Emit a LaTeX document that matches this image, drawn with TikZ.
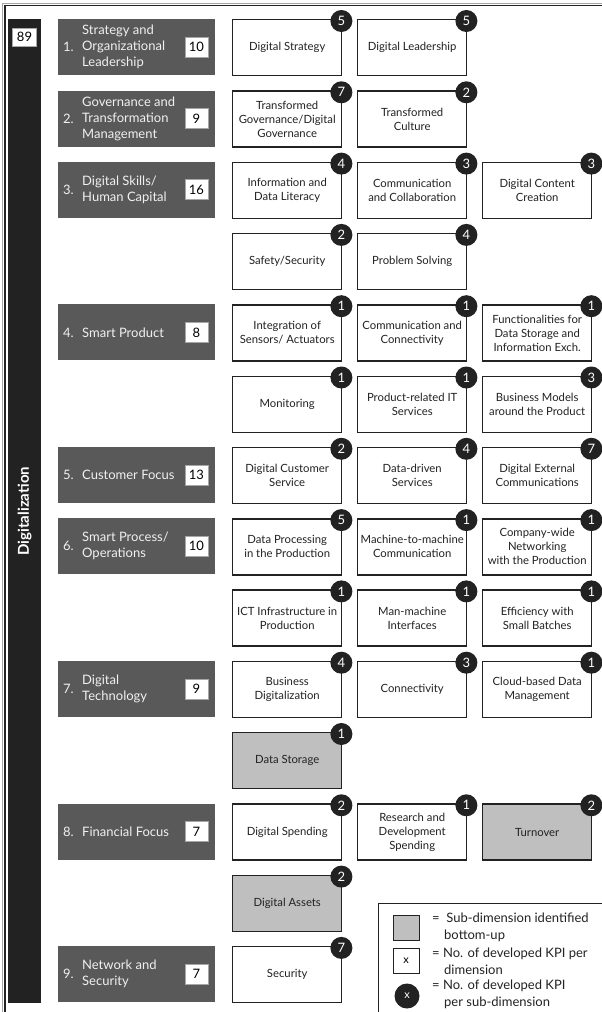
\documentclass[tikz,border=0pt]{standalone}
\usepackage{fontspec}
\setmainfont{Lato}
\usetikzlibrary{calc}
\definecolor{dimgray}{RGB}{89,89,89}
\definecolor{dimtxt}{RGB}{240,240,240}
\definecolor{darkk}{RGB}{34,34,34}
\definecolor{bupgray}{RGB}{191,191,191}
\tikzset{
  subbox/.style={draw=darkk, line width=1.4pt, minimum width=109pt, minimum height=56pt,
    align=center, font=\fontsize{11.3}{14}\selectfont, text=darkk, inner sep=1pt, anchor=north west},
  badge/.style={circle, fill=darkk, minimum size=22pt, inner sep=0pt, text=white,
    font=\fontsize{13}{13}\selectfont},
  dimbox/.style={fill=dimgray, minimum width=157pt, minimum height=56pt, inner sep=0pt, anchor=north west},
  dimnum/.style={anchor=west, text=dimtxt, inner sep=0pt, font=\fontsize{13}{16}\selectfont},
  dimtext/.style={anchor=west, text=dimtxt, inner sep=0pt, align=left, font=\fontsize{13}{16}\selectfont},
  cntbox/.style={fill=white, draw=black!35, line width=0.8pt, minimum width=23pt, minimum height=20pt,
    inner sep=0pt, text=black, font=\fontsize{13}{13}\selectfont},
  legtext/.style={anchor=west, align=left, inner sep=0pt, text=darkk, font=\fontsize{13}{17}\selectfont}
}
\newcommand{\sbx}[5][white]{%
  \pgfmathsetmacro\sx{232+125*(#2-1)}%
  \pgfmathsetmacro\sy{19+71.3*#3}%
  \node[subbox, fill=#1] (s#2r#3) at (\sx,\sy) {#4};
  \node[badge] (b#2r#3) at ($(s#2r#3.north east)+(-1,2)$) {#5};}
\newcommand{\dbx}[4]{%
  \pgfmathsetmacro\dy{19+71.3*#1}%
  \node[dimbox] (d#2) at (58,\dy) {};
  \node[dimnum] (dn#2) at ($(d#2.west)+(5,0)$) {#2.};
  \node[dimtext] (dt#2) at ($(d#2.west)+(24,0)$) {#3};
  \node[cntbox] (c#2) at ($(d#2.east)+(-19,0)$) {#4};}
\begin{document}
\begin{tikzpicture}[x=1pt,y=-1pt]
\useasboundingbox (0,0) rectangle (602,1012);
% frame
\draw[black!35, line width=0.8pt] (2.2,1012) -- (2.2,3.5) -- (602,3.5);
\draw[darkk, line width=1.2pt] (5,1012) -- (5,5.5) -- (602,5.5);
% bar
\node[fill=darkk, minimum width=33pt, minimum height=984pt, inner sep=0pt, anchor=north west] (bar) at (8,19) {};
\node[fill=white, draw=black!35, line width=0.8pt, minimum width=24pt, minimum height=18pt, inner sep=0pt,
  font=\fontsize{13}{13}\selectfont] (total) at (24.5,37) {89};
\node[rotate=90, text=white, font=\bfseries\fontsize{15}{15}\selectfont] (digi) at (bar.center) {Digitalization};
% dimensions
\dbx{0}{1}{Strategy and\\Organizational\\Leadership}{10}
\dbx{1}{2}{Governance and\\Transformation\\Management}{9}
\dbx{2}{3}{Digital Skills/\\Human Capital}{16}
\dbx{4}{4}{Smart Product}{8}
\dbx{6}{5}{Customer Focus}{13}
\dbx{7}{6}{Smart Process/\\Operations}{10}
\dbx{9}{7}{Digital\\Technology}{9}
\dbx{11}{8}{Financial Focus}{7}
\dbx{13}{9}{Network and\\Security}{7}
% sub-dimensions
\sbx{1}{0}{Digital Strategy}{5}
\sbx{2}{0}{Digital Leadership}{5}
\sbx{1}{1}{Transformed\\Governance/Digital\\Governance}{7}
\sbx{2}{1}{Transformed\\Culture}{2}
\sbx{1}{2}{Information and\\Data Literacy}{4}
\sbx{2}{2}{Communication\\and Collaboration}{3}
\sbx{3}{2}{Digital Content\\Creation}{3}
\sbx{1}{3}{Safety/Security}{2}
\sbx{2}{3}{Problem Solving}{4}
\sbx{1}{4}{Integration of\\Sensors/ Actuators}{1}
\sbx{2}{4}{Communication and\\Connectivity}{1}
\sbx{3}{4}{Functionalities for\\Data Storage and\\Information Exch.}{1}
\sbx{1}{5}{Monitoring}{1}
\sbx{2}{5}{Product-related IT\\Services}{1}
\sbx{3}{5}{Business Models\\around the Product}{3}
\sbx{1}{6}{Digital Customer\\Service}{2}
\sbx{2}{6}{Data-driven\\Services}{4}
\sbx{3}{6}{Digital External\\Communications}{7}
\sbx{1}{7}{Data Processing\\in the Production}{5}
\sbx{2}{7}{Machine-to-machine\\Communication}{1}
\sbx{3}{7}{Company-wide\\Networking\\with the Production}{1}
\sbx{1}{8}{ICT Infrastructure in\\Production}{1}
\sbx{2}{8}{Man-machine\\Interfaces}{1}
\sbx{3}{8}{Efficiency with\\Small Batches}{1}
\sbx{1}{9}{Business\\Digitalization}{4}
\sbx{2}{9}{Connectivity}{3}
\sbx{3}{9}{Cloud-based Data\\Management}{1}
\sbx[bupgray]{1}{10}{Data Storage}{1}
\sbx{1}{11}{Digital Spending}{2}
\sbx{2}{11}{Research and\\Development\\Spending}{1}
\sbx[bupgray]{3}{11}{Turnover}{2}
\sbx[bupgray]{1}{12}{Digital Assets}{2}
\sbx{1}{13}{Security}{7}
% legend
\draw[darkk, line width=1pt] (378,1013) -- (378,903) -- (603,903);
\node[fill=bupgray, draw=darkk, line width=1pt, minimum width=26pt, minimum height=25pt, inner sep=0pt] (lg1) at (406,927.5) {};
\node[fill=white, draw=darkk, line width=1pt, minimum width=26pt, minimum height=25pt, inner sep=0pt,
  font=\fontsize{11}{11}\selectfont] (lg2) at (406,960.5) {x};
\node[circle, fill=darkk, minimum size=25pt, inner sep=0pt, text=white, font=\fontsize{11}{11}\selectfont] (lg3) at (407,996) {x};
\node[legtext] (lt1) at (432,927.5) {=\ \ Sub-dimension identified\\\hspace*{12pt}bottom-up};
\node[legtext] (lt2) at (432,961) {= No. of developed KPI per\\\hspace*{12pt}dimension};
\node[legtext] (lt3) at (432,994.5) {= No. of developed KPI\\\hspace*{12pt}per sub-dimension};
\end{tikzpicture}
\end{document}
